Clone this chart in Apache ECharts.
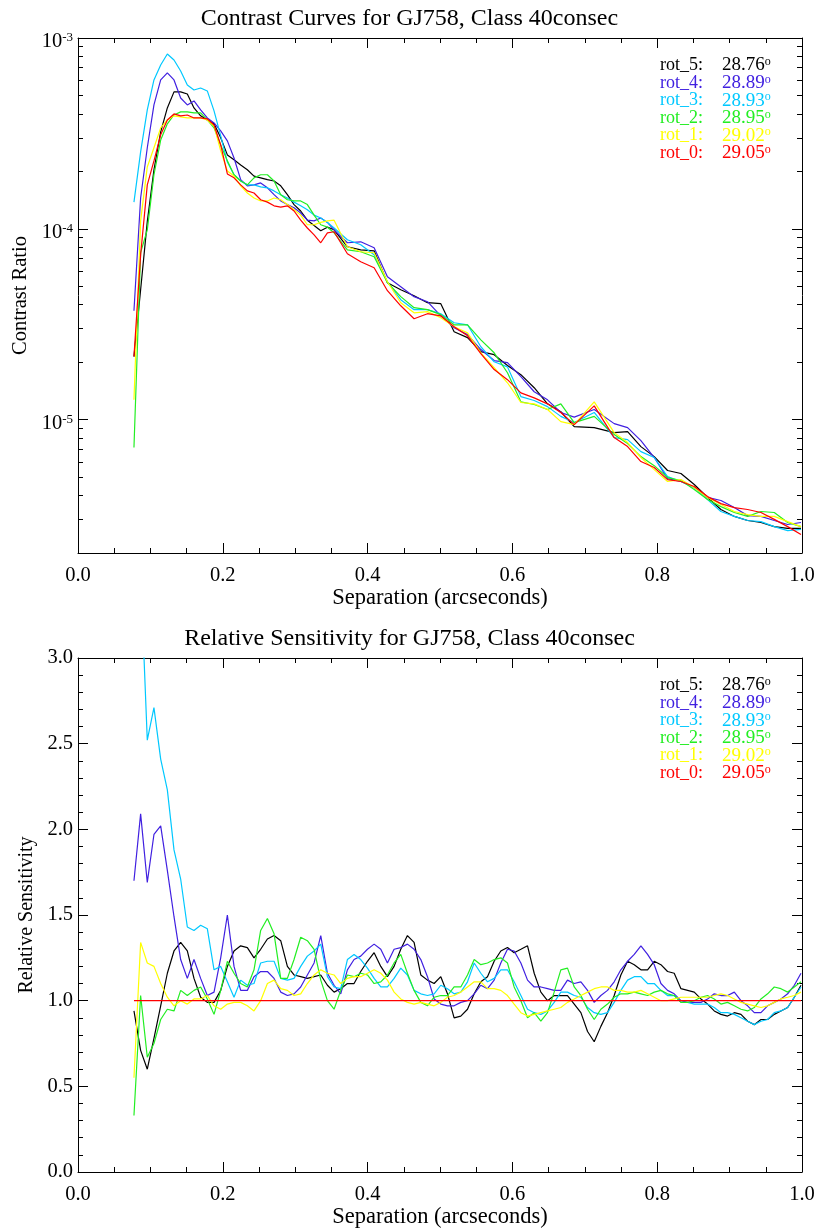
<!DOCTYPE html>
<html><head><meta charset="utf-8">
<script src="https://cdn.jsdelivr.net/npm/echarts@6/dist/echarts.min.js"></script>
<style>html,body{margin:0;padding:0;background:#fff}#c{width:819px;height:1228px}</style>
</head><body><div id="c"></div>
<script>
// ---------- DATA ----------
const seriesNames = ['rot_5','rot_4','rot_3','rot_2','rot_1','rot_0'];
const rotAngles = ['28.76','28.89','28.93','28.95','29.02','29.05'];
const titleTop = 'Contrast Curves for GJ758, Class 40consec';
const titleBottom = 'Relative Sensitivity for GJ758, Class 40consec';
const yMajorExp = [-5, -4, -3];              // tick labels 10^-5, 10^-4, 10^-3
const yMinorMant = [2,3,4,5,6,7,8,9];       // minor ticks of the log axis

// Separation (arcsec) for the contrast panel
const topSep = [0.0773,0.0865,0.0957,0.1049,0.1142,0.1234,0.1326,0.1418,0.1510,0.1602,
 0.1694,0.1786,0.1879,0.1971,0.2063,0.2155,0.2247,0.2339,0.2431,0.2523,
 0.2616,0.2708,0.2800,0.2892,0.2984,0.3076,0.3168,0.3261,0.3353,0.3445,
 0.3537,0.3721,0.3905,0.4090,0.4274,0.4458,0.4642,0.4827,0.5011,0.5195,
 0.5380,0.5564,0.5748,0.5932,0.6117,0.6301,0.6485,0.6669,0.6854,
 0.7130,
 0.7406,0.7591,0.7775,0.7959,0.8143,0.8328,0.8512,0.8696,0.8880,0.9065,0.9249,0.9433,0.9617,0.9802,0.9986];

const contrastRot5 = [2.14e-5,4.79e-5,1.09e-4,2.04e-4,3.22e-4,4.30e-4,5.22e-4,5.22e-4,5.09e-4,4.30e-4,
 3.91e-4,3.72e-4,3.55e-4,3.00e-4,2.44e-4,2.30e-4,2.16e-4,2.04e-4,1.89e-4,1.85e-4,
 1.81e-4,1.78e-4,1.68e-4,1.51e-4,1.34e-4,1.24e-4,1.11e-4,1.04e-4,9.76e-5,1.02e-4,
 9.88e-5,8.05e-5,7.76e-5,7.67e-5,5.22e-5,4.79e-5,4.46e-5,4.10e-5,4.05e-5,2.89e-5,
 2.69e-5,2.27e-5,2.19e-5,1.92e-5,1.72e-5,1.47e-5,1.21e-5,1.10e-5,9.19e-6,
 9.08e-6,
 8.55e-6,8.65e-6,7.22e-6,6.40e-6,5.41e-6,5.22e-6,4.57e-6,3.91e-6,3.38e-6,3.11e-6,2.96e-6,2.89e-6,2.75e-6,2.69e-6,2.69e-6];
const contrastRot4 = [3.72e-5,1.45e-4,2.66e-4,4.46e-4,6.03e-4,6.56e-4,6.03e-4,4.85e-4,4.46e-4,4.68e-4,
 4.20e-4,3.81e-4,3.59e-4,3.26e-4,2.89e-4,2.35e-4,1.81e-4,1.68e-4,1.70e-4,1.74e-4,
 1.64e-4,1.51e-4,1.40e-4,1.34e-4,1.29e-4,1.21e-4,1.11e-4,1.10e-4,1.14e-4,1.08e-4,
 9.88e-5,8.45e-5,8.55e-5,7.95e-5,5.61e-5,4.97e-5,4.41e-5,4.15e-5,3.50e-5,3.03e-5,
 2.79e-5,2.33e-5,2.04e-5,1.99e-5,1.68e-5,1.40e-5,1.27e-5,1.09e-5,1.03e-5,
 1.13e-5,
 9.53e-6,9.08e-6,7.76e-6,6.33e-6,4.91e-6,4.74e-6,4.41e-6,3.91e-6,3.77e-6,3.46e-6,3.14e-6,3.11e-6,2.96e-6,2.82e-6,2.89e-6];
const contrastRot3 = [1.38e-4,2.53e-4,4.20e-4,6.03e-4,7.22e-4,8.25e-4,7.67e-4,6.72e-4,5.67e-4,5.34e-4,
 5.47e-4,5.28e-4,4.15e-4,3.07e-4,2.24e-4,1.92e-4,1.78e-4,1.70e-4,1.70e-4,1.66e-4,
 1.64e-4,1.58e-4,1.51e-4,1.45e-4,1.38e-4,1.32e-4,1.26e-4,1.18e-4,1.14e-4,1.08e-4,
 1.01e-4,8.76e-5,8.25e-5,7.31e-5,5.28e-5,4.25e-5,3.77e-5,3.77e-5,3.59e-5,3.22e-5,
 3.14e-5,2.41e-5,2.01e-5,1.89e-5,1.32e-5,1.26e-5,1.17e-5,1.04e-5,9.65e-6,
 1.09e-5,
 8.05e-6,7.86e-6,6.80e-6,6.33e-6,5.03e-6,4.74e-6,4.41e-6,3.81e-6,3.30e-6,3.11e-6,2.96e-6,2.92e-6,2.75e-6,2.62e-6,2.66e-6];
const contrastRot2 = [7.14e-6,7.50e-5,9.88e-5,1.92e-4,2.92e-4,3.55e-4,3.95e-4,4.10e-4,4.10e-4,4.05e-4,
 4.05e-4,3.72e-4,3.38e-4,2.75e-4,2.27e-4,1.92e-4,1.78e-4,1.70e-4,1.85e-4,1.92e-4,
 1.92e-4,1.78e-4,1.51e-4,1.42e-4,1.40e-4,1.40e-4,1.34e-4,1.18e-4,1.05e-4,1.02e-4,
 9.53e-5,7.76e-5,7.58e-5,7.14e-5,5.22e-5,4.41e-5,3.86e-5,3.77e-5,3.55e-5,3.14e-5,
 3.14e-5,2.62e-5,2.24e-5,1.76e-5,1.24e-5,1.20e-5,1.13e-5,1.21e-5,9.65e-6,
 1.04e-5,
 8.35e-6,7.49e-6,6.40e-6,5.74e-6,4.97e-6,4.79e-6,4.30e-6,3.81e-6,3.50e-6,3.26e-6,3.11e-6,3.30e-6,3.26e-6,2.89e-6,2.75e-6];
const contrastRot1 = [1.27e-5,1.10e-4,2.11e-4,2.66e-4,3.38e-4,3.72e-4,3.91e-4,3.86e-4,3.81e-4,3.81e-4,
 3.81e-4,3.72e-4,3.46e-4,2.56e-4,2.01e-4,1.89e-4,1.68e-4,1.54e-4,1.45e-4,1.40e-4,
 1.40e-4,1.45e-4,1.42e-4,1.34e-4,1.26e-4,1.18e-4,1.05e-4,1.05e-4,1.08e-4,1.10e-4,
 1.11e-4,8.05e-5,7.58e-5,7.49e-5,5.28e-5,4.10e-5,3.63e-5,3.68e-5,3.42e-5,3.07e-5,
 2.85e-5,2.24e-5,1.87e-5,1.56e-5,1.23e-5,1.21e-5,1.13e-5,9.76e-6,9.42e-6,
 1.24e-5,
 8.55e-6,7.58e-6,6.33e-6,5.47e-6,4.74e-6,4.85e-6,4.41e-6,3.91e-6,3.59e-6,3.30e-6,3.18e-6,3.11e-6,3.11e-6,2.92e-6,2.75e-6];
const contrastRot0 = [2.14e-5,7.30e-5,1.70e-4,2.27e-4,3.11e-4,3.72e-4,4.00e-4,3.91e-4,3.95e-4,3.81e-4,
 3.81e-4,3.77e-4,3.50e-4,2.75e-4,1.94e-4,1.85e-4,1.70e-4,1.58e-4,1.54e-4,1.42e-4,
 1.38e-4,1.32e-4,1.30e-4,1.32e-4,1.24e-4,1.11e-4,1.01e-4,9.30e-5,8.45e-5,9.53e-5,
 9.65e-5,7.40e-5,6.72e-5,6.25e-5,4.74e-5,3.95e-5,3.38e-5,3.59e-5,3.50e-5,3.07e-5,
 2.75e-5,2.22e-5,1.83e-5,1.62e-5,1.38e-5,1.30e-5,1.21e-5,1.09e-5,9.42e-6,
 1.18e-5,
 8.05e-6,7.22e-6,6.03e-6,5.61e-6,4.85e-6,4.74e-6,4.46e-6,3.95e-6,3.63e-6,3.46e-6,3.38e-6,3.26e-6,3.00e-6,2.75e-6,2.50e-6];

// Separation (arcsec) for the relative-sensitivity panel
const bottomSep = [0.0773,0.0865,0.0957,0.1049,0.1142,0.1234,0.1326,0.1418,0.1510,0.1602,
 0.1694,0.1786,0.1879,0.1971,0.2063,0.2155,0.2247,0.2339,0.2431,0.2523,
 0.2616,0.2708,0.2800,0.2892,0.2984,0.3076,0.3168,0.3261,0.3353,0.3445,
 0.3537,0.3629,0.3721,0.3813,0.3905,0.3998,0.4090,0.4182,0.4274,0.4366,
 0.4458,0.4550,0.4642,0.4735,0.4827,0.4919,0.5011,0.5103,0.5195,0.5287,
 0.5380,0.5472,0.5564,0.5656,0.5748,0.5840,0.5932,0.6024,0.6117,0.6209,
 0.6301,0.6393,0.6485,0.6577,0.6669,0.6761,0.6854,0.6946,0.7038,0.7130,
 0.7222,0.7314,0.7406,0.7498,0.7591,0.7683,0.7775,0.7867,0.7959,0.8051,
 0.8143,0.8235,0.8328,0.8420,0.8512,0.8604,0.8696,0.8788,0.8880,0.8972,
 0.9065,0.9157,0.9249,0.9341,0.9433,0.9525,0.9617,0.9709,0.9802,0.9894,0.9986];

const relRot5 = [0.94,0.71,0.60,0.78,0.97,1.16,1.29,1.34,1.29,1.13,
 1.02,0.99,0.99,1.06,1.20,1.29,1.32,1.31,1.25,1.30,
 1.36,1.38,1.35,1.20,1.15,1.14,1.13,1.14,1.15,1.09,
 1.05,1.07,1.10,1.10,1.17,1.23,1.28,1.20,1.14,1.20,
 1.30,1.38,1.34,1.15,1.12,1.10,1.14,1.04,0.90,0.91,
 0.95,1.04,1.11,1.14,1.23,1.29,1.31,1.28,1.30,1.32,
 1.16,1.05,1.00,1.03,1.03,1.03,0.98,0.93,0.82,0.76,
 0.85,0.93,1.03,1.15,1.23,1.21,1.18,1.18,1.23,1.21,
 1.17,1.16,1.07,1.06,1.05,1.01,0.98,0.94,0.92,0.91,
 0.93,0.92,0.88,0.86,0.89,0.89,0.92,0.94,0.96,1.02,1.09];
const relRot4 = [1.70,2.09,1.69,1.97,2.02,1.76,1.49,1.24,1.13,1.24,
 1.13,1.03,1.05,1.25,1.50,1.20,1.06,1.06,1.14,1.17,
 1.17,1.13,1.05,1.03,1.04,1.08,1.15,1.22,1.38,1.16,
 1.09,1.04,1.18,1.24,1.26,1.30,1.33,1.30,1.22,1.30,
 1.31,1.33,1.30,1.24,1.14,1.01,0.98,0.97,0.97,0.99,
 1.00,1.04,1.09,1.07,1.12,1.22,1.30,1.29,1.22,1.12,
 1.08,1.08,1.07,1.06,1.06,1.12,1.10,1.11,1.06,0.99,
 1.03,1.06,1.11,1.18,1.23,1.27,1.32,1.27,1.21,1.10,
 1.06,1.04,1.00,0.99,0.99,0.99,1.01,1.04,1.03,1.03,
 1.05,1.00,0.97,0.93,0.93,0.97,0.99,1.01,1.04,1.09,1.16];
const relRot3 = [6.40,3.50,2.52,2.71,2.41,2.23,1.88,1.71,1.43,1.41,
 1.44,1.42,1.18,1.20,1.11,1.02,1.12,1.09,1.10,1.22,
 1.23,1.23,1.13,1.12,1.13,1.20,1.26,1.29,1.33,1.14,
 1.08,1.07,1.24,1.27,1.24,1.19,1.13,1.08,1.08,1.13,
 1.19,1.15,1.06,1.04,1.03,1.04,1.09,1.07,1.04,1.05,
 1.11,1.22,1.16,1.11,1.13,1.18,1.18,1.11,1.03,0.95,
 0.93,0.92,0.94,0.99,1.05,1.05,1.03,1.02,0.96,0.93,
 0.92,0.93,0.99,1.06,1.12,1.14,1.14,1.10,1.10,1.06,
 1.03,1.03,0.99,0.99,0.98,0.98,0.98,0.96,0.93,0.93,
 0.92,0.90,0.88,0.86,0.88,0.89,0.93,0.94,0.96,1.02,1.08];
const relRot2 = [0.33,1.03,0.67,0.75,0.89,0.95,0.94,1.06,1.03,1.06,
 1.08,1.01,0.92,1.06,1.23,1.16,1.10,1.08,1.18,1.41,
 1.48,1.39,1.13,1.13,1.24,1.37,1.35,1.30,1.12,1.00,
 0.95,1.06,1.15,1.14,1.16,1.15,1.10,1.11,1.15,1.22,
 1.27,1.16,1.06,0.99,0.97,1.02,1.03,1.03,1.08,1.08,
 1.15,1.24,1.21,1.22,1.24,1.25,1.22,1.08,1.00,0.90,
 0.93,0.88,0.93,1.05,1.18,1.19,1.08,1.03,0.95,0.89,
 0.95,0.98,1.02,1.04,1.04,1.05,1.04,1.03,1.05,1.06,
 1.04,1.03,0.99,0.99,1.00,1.02,1.03,1.01,0.98,0.99,
 0.97,0.95,0.94,0.96,1.01,1.04,1.08,1.07,1.05,1.08,1.11];
const relRot1 = [0.55,1.34,1.22,1.20,1.10,1.02,0.97,1.00,0.98,1.01,
 1.01,1.03,0.97,0.95,0.98,0.99,0.99,0.97,0.94,1.00,
 1.10,1.12,1.07,1.06,1.03,1.04,1.10,1.15,1.18,1.16,
 1.15,1.10,1.13,1.14,1.14,1.16,1.18,1.16,1.12,1.05,
 1.01,0.99,0.98,0.99,0.98,0.97,0.99,1.02,1.03,1.05,
 1.08,1.11,1.11,1.07,1.07,1.06,1.03,0.98,0.93,0.91,
 0.92,0.93,0.94,0.95,0.96,0.99,1.01,1.03,1.05,1.07,
 1.08,1.08,1.06,1.06,1.05,1.05,1.06,1.04,1.02,1.00,
 1.00,1.01,1.02,1.02,1.02,1.02,1.02,1.03,1.04,1.03,
 1.01,0.99,0.98,0.97,0.96,0.97,0.99,1.01,1.02,1.03,1.05];
const relRot0 = [1.00,1.00,1.00,1.00,1.00,1.00,1.00,1.00,1.00,1.00,
 1.00,1.00,1.00,1.00,1.00,1.00,1.00,1.00,1.00,1.00,
 1.00,1.00,1.00,1.00,1.00,1.00,1.00,1.00,1.00,1.00,
 1.00,1.00,1.00,1.00,1.00,1.00,1.00,1.00,1.00,1.00,
 1.00,1.00,1.00,1.00,1.00,1.00,1.00,1.00,1.00,1.00,
 1.00,1.00,1.00,1.00,1.00,1.00,1.00,1.00,1.00,1.00,
 1.00,1.00,1.00,1.00,1.00,1.00,1.00,1.00,1.00,1.00,
 1.00,1.00,1.00,1.00,1.00,1.00,1.00,1.00,1.00,1.00,
 1.00,1.00,1.00,1.00,1.00,1.00,1.00,1.00,1.00,1.00,
 1.00,1.00,1.00,1.00,1.00,1.00,1.00,1.00,1.00,1.00,1.00];

// ---------- STYLE ----------
const colors = ['#000000','#4020e0','#00c8ff','#22ee22','#ffff00','#ff0000'];
const FONT = '"Liberation Serif", "Times New Roman", serif';
const AX = {color:'#000', width:1};
const topContrast = [contrastRot5, contrastRot4, contrastRot3, contrastRot2, contrastRot1, contrastRot0];
const bottomRel = [relRot5, relRot4, relRot3, relRot2, relRot1, relRot0];

const LOG_MIN = 2e-6, LOG_MAX = 1e-3;
const lmin = Math.log10(LOG_MIN), lmax = Math.log10(LOG_MAX);
const minorLog = [];
for (const e of [-6,-5,-4]) for (const m of yMinorMant) {
  const v = Math.log10(m) + e;
  if (v >= lmin - 1e-9 && v <= lmax) minorLog.push(v);
}

function xAx(grid, pos, labels) {
  return {
    type:'value', gridIndex:grid, position:pos, min:0, max:1, interval:0.2,
    axisLine:{show:true, onZero:false, lineStyle:AX},
    axisTick:{show:true, inside:true, length:10, lineStyle:AX},
    minorTick:{show:true, splitNumber:4, length:5, lineStyle:AX},
    splitLine:{show:false}, minorSplitLine:{show:false},
    axisLabel:{show:labels, formatter:v=>v.toFixed(1), fontFamily:FONT, fontSize:20.5, color:'#000', margin:12},
    name: labels ? 'Separation (arcseconds)' : '', nameLocation:'middle', nameGap:30.5,
    nameTextStyle:{fontFamily:FONT, fontSize:22.5, color:'#000'}
  };
}
function logDeco(pos, major, withLabels) {
  const vals = major ? yMajorExp : minorLog;
  return {
    type:'value', gridIndex:0, position:pos, min:lmin, max:lmax,
    axisLine:{show:major, onZero:false, lineStyle:AX},
    axisTick:{show:true, inside:true, length: major ? 10 : 5, customValues:vals, lineStyle:AX},
    splitLine:{show:false},
    axisLabel:{show:withLabels, customValues:vals, margin:5, padding:[8,0,0,0],
      formatter:v=>'{b|10}{s|' + Math.round(v) + '}',
      rich:{b:{fontFamily:FONT, fontSize:20.5, color:'#000', lineHeight:22},
            s:{fontFamily:FONT, fontSize:13, color:'#000', verticalAlign:'top'}}},
    name: withLabels ? 'Contrast Ratio' : '', nameLocation:'middle', nameGap:38,
    nameTextStyle:{fontFamily:FONT, fontSize:20.5, color:'#000'}
  };
}
function relAx(pos, labels) {
  return {
    type:'value', gridIndex:1, position:pos, min:0, max:3, interval:0.5,
    axisLine:{show:true, onZero:false, lineStyle:AX},
    axisTick:{show:true, inside:true, length:10, lineStyle:AX},
    minorTick:{show:true, splitNumber:5, length:5, lineStyle:AX},
    splitLine:{show:false}, minorSplitLine:{show:false},
    axisLabel:{show:labels, formatter:v=>v.toFixed(1), fontFamily:FONT, fontSize:20.5, color:'#000', margin:5},
    name: labels ? 'Relative Sensitivity' : '', nameLocation:'middle', nameGap:38,
    nameTextStyle:{fontFamily:FONT, fontSize:20, color:'#000'}
  };
}

const series = [];
topContrast.forEach((arr, k) => series.push({
  type:'line', name:seriesNames[k], xAxisIndex:0, yAxisIndex:0,
  data: topSep.map((x,i)=>[x, arr[i]]), symbol:'none', showSymbol:false,
  lineStyle:{color:colors[k], width:1.2}, itemStyle:{color:colors[k]}, silent:true, clip:true
}));
bottomRel.forEach((arr, k) => series.push({
  type:'line', name:seriesNames[k], xAxisIndex:2, yAxisIndex:5,
  data: bottomSep.map((x,i)=>[x, arr[i]]), symbol:'none', showSymbol:false,
  lineStyle:{color:colors[k], width:1.2}, itemStyle:{color:colors[k]}, silent:true, clip:true
}));

const legendRow0 = [65.5, 685.5];
const legendStep = 17.55;
const graphics = [];
legendRow0.forEach(y0 => seriesNames.forEach((n, k) => {
  graphics.push({type:'text', x:660, y:y0 + legendStep*k, silent:true,
    style:{text:n + ':', fill:colors[k], fontSize:18, fontFamily:FONT, verticalAlign:'middle'}});
  graphics.push({type:'text', x:722, y:y0 + legendStep*k, silent:true,
    style:{text:'{v|' + rotAngles[k] + '}{s|o}', fill:colors[k], fontSize:19, fontFamily:FONT, verticalAlign:'middle',
      rich:{v:{fontSize:19, fontFamily:FONT, fill:colors[k]}, s:{fontSize:12, fontFamily:FONT, fill:colors[k], verticalAlign:'top'}}}});
}));

const option = {
  animation:false,
  backgroundColor:'#ffffff',
  title:[
    {text:titleTop, left:'center', top:7, padding:0, textStyle:{fontFamily:FONT, fontSize:24, fontWeight:'normal', color:'#000'}},
    {text:titleBottom, left:'center', top:627, padding:0, textStyle:{fontFamily:FONT, fontSize:24, fontWeight:'normal', color:'#000'}}
  ],
  grid:[
    {left:78, right:17, top:38, height:515, outerBoundsMode:'none'},
    {left:78, right:17, top:658, height:514, outerBoundsMode:'none'}
  ],
  xAxis:[ xAx(0,'bottom',true), xAx(0,'top',false), xAx(1,'bottom',true), xAx(1,'top',false) ],
  yAxis:[
    {type:'log', gridIndex:0, min:LOG_MIN, max:LOG_MAX, logBase:10, show:false},
    logDeco('left', true, true),
    logDeco('left', false, false),
    logDeco('right', true, false),
    logDeco('right', false, false),
    relAx('left', true),
    relAx('right', false)
  ],
  graphic:{elements:graphics},
  series
};
const chart = echarts.init(document.getElementById('c'), null, {renderer:'canvas', width:819, height:1228});
chart.setOption(option);
</script>
</body></html>
